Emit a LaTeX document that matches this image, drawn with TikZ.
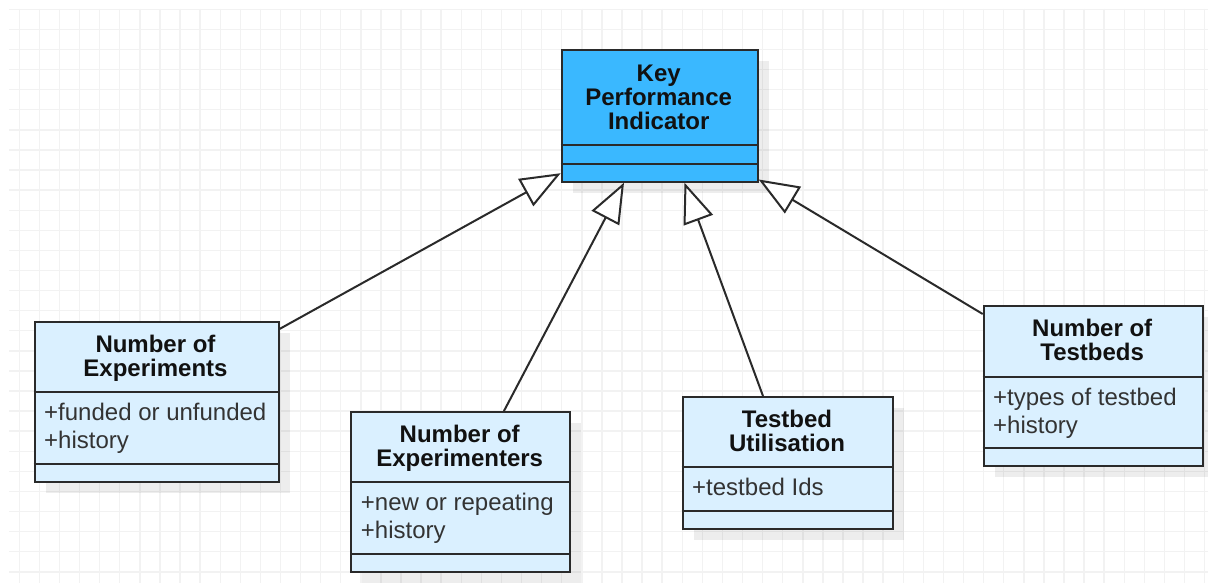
\documentclass[tikz,border=0pt]{standalone}
\usepackage{fontspec}
\setmainfont{Liberation Sans}
\usetikzlibrary{arrows.meta,calc,shadows}
\definecolor{kpifill}{HTML}{3AB8FF}
\definecolor{clsfill}{HTML}{DAF0FF}
\definecolor{linec}{HTML}{2A2A2A}
\definecolor{titlec}{HTML}{111111}
\definecolor{attrc}{HTML}{333333}
\definecolor{gridc}{HTML}{F2F2F2}
\begin{document}
\begin{tikzpicture}[x=1pt,y=-1pt,
  box/.style={draw=linec,line width=2pt,inner sep=0pt,anchor=north west,
    drop shadow={shadow xshift=11pt,shadow yshift=-11pt,fill=black,opacity=0.07}},
  cls/.style={box,fill=clsfill},
  kpibox/.style={box,fill=kpifill},
  title/.style={font=\fontsize{24}{24}\selectfont\bfseries,text=titlec,anchor=base,inner sep=0pt,align=center},
  attr/.style={font=\fontsize{24}{28}\selectfont,text=attrc,anchor=base west,inner sep=0pt,align=left},
  sepline/.style={draw=linec,line width=2pt},
  gen/.style={draw=linec,line width=2pt,-{Triangle[length=40pt,width=31pt,fill=white]}},
  gridline/.style={draw=gridc,line width=1.4pt}]
\useasboundingbox (0,0) rectangle (1208,583);
\fill[white] (0,0) rectangle (1208,583);
% grid
\foreach \k in {0,...,59} \draw[gridline] ({19.3+20.09*\k},9) -- ({19.3+20.09*\k},583);
\foreach \k in {0,...,28} \draw[gridline] (9,{9.3+20.09*\k}) -- (1208,{9.3+20.09*\k});

% KPI
\node[kpibox,minimum width=196pt,minimum height=131.7pt] (kpi) at (560.7,49) {};
\draw[sepline] (kpi.west |- 0,145.3) -- (kpi.east |- 0,145.3);
\draw[sepline] (kpi.west |- 0,163.7) -- (kpi.east |- 0,163.7);
\node[title] (kpiT) at (658.7,130) {Key\\Performance\\Indicator};

% Number of Experiments
\node[cls,minimum width=244pt,minimum height=160pt] (exp) at (33.5,320.5) {};
\draw[sepline] (exp.west |- 0,392) -- (exp.east |- 0,392);
\draw[sepline] (exp.west |- 0,464) -- (exp.east |- 0,464);
\node[title] (expT) at (155.5,376.7) {Number of\\Experiments};
\node[attr] (expA) at (44,448.3) {+funded or unfunded\\+history};

% Number of Experimenters
\node[cls,minimum width=219.3pt,minimum height=160pt] (expr) at (350,411) {};
\draw[sepline] (expr.west |- 0,482) -- (expr.east |- 0,482);
\draw[sepline] (expr.west |- 0,554.3) -- (expr.east |- 0,554.3);
\node[title] (exprT) at (459.7,466.7) {Number of\\Experimenters};
\node[attr] (exprA) at (360.7,538.3) {+new or repeating\\+history};

% Testbed Utilisation
\node[cls,minimum width=210.6pt,minimum height=132.3pt] (tu) at (681.7,396) {};
\draw[sepline] (tu.west |- 0,467) -- (tu.east |- 0,467);
\draw[sepline] (tu.west |- 0,511) -- (tu.east |- 0,511);
\node[title] (tuT) at (787,451.7) {Testbed\\Utilisation};
\node[attr] (tuA) at (692,495) {+testbed Ids};

% Number of Testbeds
\node[cls,minimum width=219pt,minimum height=160pt] (tb) at (982.7,305) {};
\draw[sepline] (tb.west |- 0,377.3) -- (tb.east |- 0,377.3);
\draw[sepline] (tb.west |- 0,448.3) -- (tb.east |- 0,448.3);
\node[title] (tbT) at (1092.2,360.7) {Number of\\Testbeds};
\node[attr] (tbA) at (993,433.3) {+types of testbed\\+history};

% generalisation connectors
\draw[gen] ($(exp.north east)+(0,8.5)$) -- ($(kpi.south west)+(0,-9.5)$);
\draw[gen] ($(expr.north)+(43.3,0)$) -- ($(kpi.south)+(-35.7,0)$);
\draw[gen] ($(tu.north)+(-25,0)$) -- ($(kpi.south)+(24.8,0)$);
\draw[gen] ($(tb.north west)+(0,9)$) -- ($(kpi.south east)+(0,-3.2)$);
\end{tikzpicture}
\end{document}
